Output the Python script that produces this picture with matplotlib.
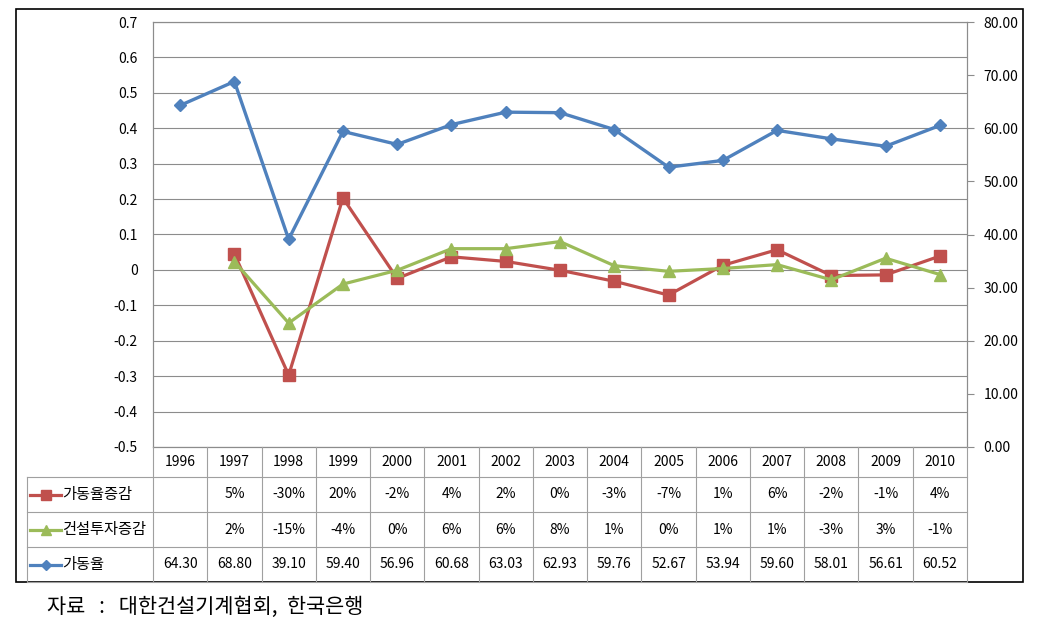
import numpy as np
import matplotlib.pyplot as plt
import matplotlib.transforms as mtransforms
from matplotlib.lines import Line2D
from matplotlib.patches import Rectangle

# 한글 폰트
plt.rcParams['font.family'] = ['Noto Sans CJK KR', 'DejaVu Sans']
plt.rcParams['axes.unicode_minus'] = False

# 데이터
years = ['1996', '1997', '1998', '1999', '2000', '2001', '2002', '2003',
         '2004', '2005', '2006', '2007', '2008', '2009', '2010']
rate_change = [np.nan, 0.045, -0.297, 0.203, -0.024, 0.037, 0.024, -0.001,
               -0.032, -0.071, 0.013, 0.057, -0.016, -0.014, 0.039]
invest_change = [np.nan, 0.023, -0.150, -0.040, -0.001, 0.060, 0.060, 0.080,
                 0.012, -0.004, 0.004, 0.015, -0.028, 0.033, -0.013]
util_rate = [64.30, 68.80, 39.10, 59.40, 56.96, 60.68, 63.03, 62.93,
             59.76, 52.67, 53.94, 59.60, 58.01, 56.61, 60.52]
rate_change_lbl = ['', '5%', '-30%', '20%', '-2%', '4%', '2%', '0%',
                   '-3%', '-7%', '1%', '6%', '-2%', '-1%', '4%']
invest_change_lbl = ['', '2%', '-15%', '-4%', '0%', '6%', '6%', '8%',
                     '1%', '0%', '1%', '1%', '-3%', '3%', '-1%']
util_rate_lbl = [f'{v:.2f}' for v in util_rate]

series_names = ['가동율증감', '건설투자증감', '가동율']
RED, GREEN, BLUE = '#C0504D', '#9BBB59', '#4F81BD'
GRID = '#8c8c8c'
TBL = '#a0a0a0'

W, H = 1055, 623


def fx(p):
    return p / W


def fy(p):
    return 1 - p / H


fig = plt.figure(figsize=(W / 100, H / 100), dpi=100)
ax = fig.add_axes([fx(153), fy(447), fx(967) - fx(153), fy(22) - fy(447)])

x = np.arange(len(years))
ax.set_xlim(-0.5, len(years) - 0.5)
ax.set_ylim(-0.5, 0.7)
yt = np.round(np.arange(-0.5, 0.71, 0.1), 1)
ax.set_yticks(yt)
ax.set_yticklabels([f'{v:g}' if v != 0 else '0' for v in yt])
ax.set_xticks([])
ax.yaxis.grid(True, color=GRID, lw=0.8)
ax.set_axisbelow(True)
ax.tick_params(axis='y', length=0, pad=11, labelsize=10)
for s in ax.spines.values():
    s.set_color(GRID)
    s.set_linewidth(0.8)

ax.plot(x, rate_change, color=RED, lw=2.3, marker='s', ms=8.5, zorder=3)
ax.plot(x, invest_change, color=GREEN, lw=2.3, marker='^', ms=8.5, zorder=4)

ax2 = ax.twinx()
ax2.set_ylim(0, 80)
ax2.set_yticks(range(0, 81, 10))
ax2.set_yticklabels([f'{v:.2f}' for v in range(0, 81, 10)])
ax2.tick_params(axis='y', length=5, width=0.8, color=GRID, pad=7, labelsize=10)
for s in ax2.spines.values():
    s.set_color(GRID)
    s.set_linewidth(0.8)
ax2.plot(x, util_rate, color=BLUE, lw=2.4, marker='D', ms=6.5, zorder=5)

# 데이터 표
blend = mtransforms.blended_transform_factory(ax.transData, fig.transFigure)
x_right = ax.get_position().x1

for i in range(len(years) + 1):
    fig.add_artist(Line2D([i - 0.5, i - 0.5], [fy(447), fy(582)],
                          transform=blend, color=TBL, lw=0.8))
fig.add_artist(Line2D([fx(27), fx(27)], [fy(477), fy(582)],
                      transform=fig.transFigure, color=TBL, lw=0.8))
for p in [477, 512, 547, 582]:
    fig.add_artist(Line2D([fx(27), x_right], [fy(p), fy(p)],
                          transform=fig.transFigure, color=TBL, lw=0.8))

for i, yr in enumerate(years):
    fig.text(i, fy(462), yr, transform=blend, ha='center', va='center', fontsize=10)

rows = [(rate_change_lbl, RED, 's', 7), (invest_change_lbl, GREEN, '^', 7),
        (util_rate_lbl, BLUE, 'D', 5)]
row_centers = [494.5, 529.5, 564.5]
for (labels, col, mk, ms), name, yc in zip(rows, series_names, row_centers):
    for i, t in enumerate(labels):
        fig.text(i, fy(yc), t, transform=blend, ha='center', va='center', fontsize=10)
    fig.add_artist(Line2D([fx(30), fx(61)], [fy(yc), fy(yc)],
                          transform=fig.transFigure, color=col, lw=2.3))
    fig.add_artist(Line2D([fx(46)], [fy(yc)], transform=fig.transFigure,
                          color=col, marker=mk, ms=ms, lw=0))
    fig.text(fx(62), fy(yc), name, ha='left', va='center', fontsize=11)

# 외곽 테두리
fig.add_artist(Rectangle((fx(16), fy(582)), fx(1023) - fx(16), fy(9) - fy(582),
                         fill=False, ec='black', lw=1.2, transform=fig.transFigure))

fig.text(fx(47), fy(607), '자료   :   대한건설기계협회,  한국은행', fontsize=15, va='center')

fig.savefig('out.png', dpi=100)
